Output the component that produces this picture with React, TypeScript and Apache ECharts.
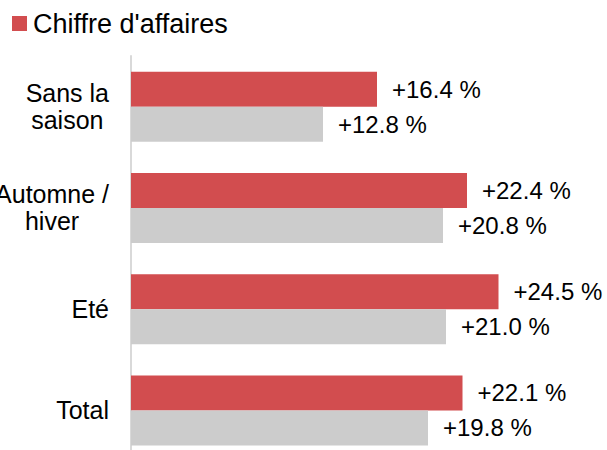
import React, { useEffect, useRef } from "react";
import * as echarts from "echarts";

const categories = ["Sans la\nsaison", "Automne /\nhiver", "Eté", "Total"];
const revenueValues = [16.4, 22.4, 24.5, 22.1];
const otherValues = [12.8, 20.8, 21.0, 19.8];
const seriesNames = ["Chiffre d'affaires", "Autre"];

const FONT = "'Liberation Sans', Arial, sans-serif";

export default function App() {
  const ref = useRef<HTMLDivElement>(null);
  useEffect(() => {
    if (!ref.current) return;
    const chart = echarts.init(ref.current, null, { renderer: "svg" });
    const fmt = (p: any) => "+" + Number(p.value).toFixed(1) + " %";
    chart.setOption({
      animation: false,
      backgroundColor: "#ffffff",
      textStyle: { fontFamily: FONT },
      legend: {
        data: [seriesNames[0]],
        left: 12,
        top: 10,
        padding: 0,
        itemWidth: 15,
        itemHeight: 15,
        icon: "rect",
        textStyle: { fontSize: 27, color: "#000000", fontFamily: FONT, padding: [0, 0, 0, 1] },
      },
      grid: {
        left: 131,
        top: 56,
        width: 450,
        height: 405,
        containLabel: false,
        outerBoundsMode: "none",
      },
      xAxis: {
        type: "value",
        min: 0,
        max: 30,
        show: false,
      },
      yAxis: {
        type: "category",
        data: categories,
        inverse: true,
        axisLine: { show: true, lineStyle: { color: "#d9d9d9", width: 2 } },
        axisTick: { show: false },
        axisLabel: {
          margin: 22,
          fontSize: 25,
          color: "#000000",
          fontFamily: FONT,
          lineHeight: 27,
          hideOverlap: false,
          formatter: (v: string) =>
            v
              .split("\n")
              .map((l) => "{c|" + l + "}")
              .join("\n"),
          rich: {
            c: { align: "center", fontSize: 25, lineHeight: 27, color: "#000000", fontFamily: FONT },
          },
        },
      },
      series: [
        {
          name: seriesNames[0],
          type: "bar",
          data: revenueValues,
          barWidth: 35,
          barGap: "0%",
          itemStyle: { color: "#d24d4f" },
          label: {
            show: true,
            position: "right",
            distance: 15,
            fontSize: 24,
            color: "#000000",
            fontFamily: FONT,
            formatter: fmt,
          },
        },
        {
          name: seriesNames[1],
          type: "bar",
          data: otherValues,
          barWidth: 35,
          barGap: "0%",
          itemStyle: { color: "#cccccc" },
          label: {
            show: true,
            position: "right",
            distance: 15,
            fontSize: 24,
            color: "#000000",
            fontFamily: FONT,
            formatter: fmt,
          },
        },
      ],
    });
    return () => chart.dispose();
  }, []);
  return (
    <div style={{ position: "fixed", left: 0, top: 0, width: 607, height: 450, overflow: "hidden", background: "#fff" }}>
      <div ref={ref} style={{ width: 607, height: 465 }} />
    </div>
  );
}
